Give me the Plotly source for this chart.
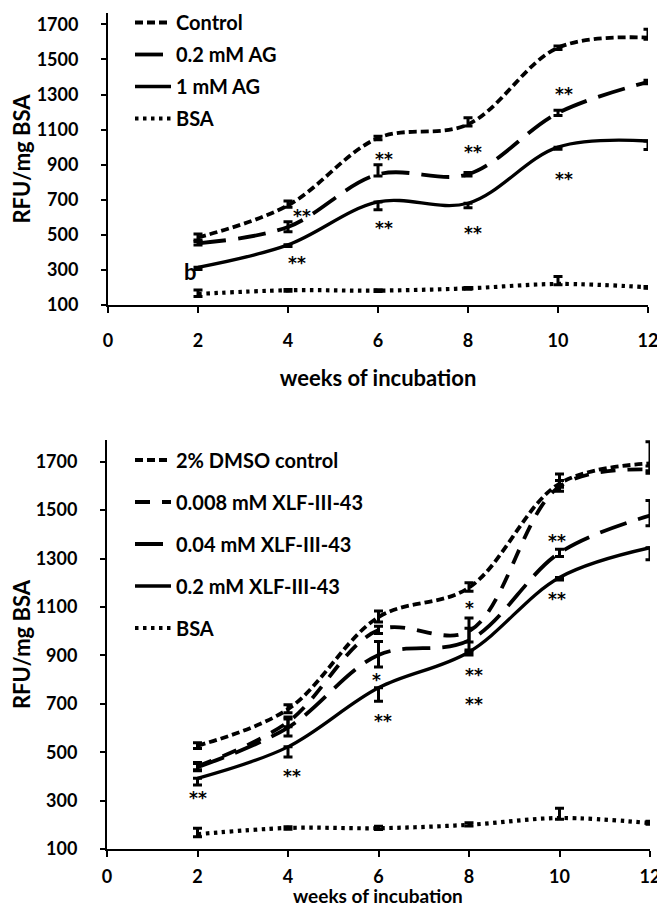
import plotly.graph_objects as go

weeks = [2, 4, 6, 8, 10, 12]

# ---- top panel (aminoguanidine) ----
top_names = ["Control", "0.2 mM AG", "1 mM AG", "BSA"]
top_control = [485, 668, 1052, 1130, 1567, 1625]
top_control_up = [20, 25, 10, 37, 10, 47]
top_control_dn = [15, 10, 10, 10, 10, 10]
top_ag02 = [452, 545, 845, 845, 1195, 1372]
top_ag02_up = [10, 30, 55, 10, 15, 10]
top_ag02_dn = [10, 28, 10, 10, 15, 10]
top_ag1 = [315, 443, 688, 680, 1000, 1035]
top_ag1_up = [0, 0, 0, 0, 0, 0]
top_ag1_dn = [12, 10, 45, 25, 12, 48]
top_bsa = [163, 184, 182, 195, 220, 201]
top_bsa_up = [22, 5, 5, 5, 42, 5]
top_bsa_dn = [15, 5, 5, 5, 5, 5]

top_star_text = ["**", "**", "**", "**", "**", "**", "**", "**", "*", "**", "b"]
top_star_x = [4.3, 4.2, 6.14, 6.14, 8.12, 8.12, 10.14, 10.14, 12.03, 12.2, 1.84]
top_star_y = [624, 357, 950, 557, 988, 529, 1320, 835, 1462, 902, 290]

# ---- bottom panel (XLF-III-43) ----
bot_names = ["2% DMSO control", "0.008 mM XLF-III-43", "0.04 mM XLF-III-43",
             "0.2 mM XLF-III-43", "BSA"]
bot_control = [527, 678, 1058, 1180, 1610, 1693]
bot_control_up = [12, 18, 25, 20, 40, 90]
bot_control_dn = [12, 15, 20, 15, 15, 30]
bot_x008 = [442, 625, 1005, 1000, 1598, 1668]
bot_x008_up = [15, 20, 15, 55, 25, 15]
bot_x008_dn = [15, 20, 15, 45, 20, 15]
bot_x04 = [438, 602, 902, 962, 1324, 1478]
bot_x04_up = [15, 35, 55, 50, 15, 62]
bot_x04_dn = [15, 35, 50, 40, 15, 42]
bot_x02 = [392, 522, 766, 914, 1222, 1345]
bot_x02_up = [0, 0, 0, 0, 0, 0]
bot_x02_dn = [28, 42, 55, 12, 10, 50]
bot_bsa = [161, 187, 186, 200, 228, 207]
bot_bsa_up = [25, 5, 8, 8, 40, 8]
bot_bsa_dn = [10, 5, 5, 5, 5, 5]

bot_star_text = ["**", "**", "*", "**", "*", "**", "**", "**", "**", "*", "**"]
bot_star_x = [2.02, 4.08, 5.95, 6.1, 8.0, 8.1, 8.1, 9.95, 9.95, 12.05, 12.22]
bot_star_y = [324, 412, 812, 642, 1109, 832, 710, 1387, 1144, 1575, 1206]

x_title = "weeks of incubation"
y_title = "RFU/mg BSA"

FONT = "Lato"
BLACK = "#000000"

# the page body has an 8px margin: figure is 657x900 so it fits the 665x908 window
W, H, OFF = 657, 900, 8


def px_x(p):
    return (p - OFF) / W


def px_y(p):
    return 1 - (p - OFF) / H


fig = go.Figure()


def add_series(name, y, up, dn, dash, width, xa, ya, legend, group):
    fig.add_trace(go.Scatter(
        x=weeks, y=y, name=name, mode="lines",
        line=dict(color=BLACK, width=width, dash=dash, shape="spline", smoothing=1.0),
        error_y=dict(type="data", symmetric=False, array=up, arrayminus=dn,
                     color=BLACK, thickness=3, width=4.5),
        xaxis=xa, yaxis=ya, legend=legend, legendgroup=group,
    ))


add_series(top_names[0], top_control, top_control_up, top_control_dn, "8px,4px", 3.8, "x", "y", "legend", "t1")
add_series(top_names[1], top_ag02, top_ag02_up, top_ag02_dn, "28px,12px", 3.8, "x", "y", "legend", "t2")
add_series(top_names[2], top_ag1, top_ag1_up, top_ag1_dn, "solid", 3.3, "x", "y", "legend", "t3")
add_series(top_names[3], top_bsa, top_bsa_up, top_bsa_dn, "3.5px,4.5px", 4.2, "x", "y", "legend", "t4")

add_series(bot_names[0], bot_control, bot_control_up, bot_control_dn, "8px,4px", 3.8, "x2", "y2", "legend2", "b1")
add_series(bot_names[1], bot_x008, bot_x008_up, bot_x008_dn, "15px,12px", 3.8, "x2", "y2", "legend2", "b2")
add_series(bot_names[2], bot_x04, bot_x04_up, bot_x04_dn, "28px,12px", 3.8, "x2", "y2", "legend2", "b3")
add_series(bot_names[3], bot_x02, bot_x02_up, bot_x02_dn, "solid", 3.3, "x2", "y2", "legend2", "b4")
add_series(bot_names[4], bot_bsa, bot_bsa_up, bot_bsa_dn, "3.5px,4.5px", 4.2, "x2", "y2", "legend2", "b5")

STAR_FONT = dict(family="DejaVu Sans", size=17, color=BLACK, weight="bold")
annotations = []
for t, x, y in zip(top_star_text, top_star_x, top_star_y):
    if t == "b":
        annotations.append(dict(x=x, y=y, xref="x", yref="y", text=t, showarrow=False,
                                font=dict(family=FONT, size=22, color=BLACK, weight="bold")))
    else:
        annotations.append(dict(x=x, y=y, xref="x", yref="y", text=t, showarrow=False,
                                yshift=-3, font=STAR_FONT))
for t, x, y in zip(bot_star_text, bot_star_x, bot_star_y):
    annotations.append(dict(x=x, y=y, xref="x2", yref="y2", text=t, showarrow=False,
                            yshift=-3, font=STAR_FONT))

tickfont = dict(family=FONT, size=18, color=BLACK, weight="bold")
titlefont = dict(family=FONT, size=22, color=BLACK, weight="bold")

# bottom x-axis title sits very close to the tick labels in the reference
annotations.append(dict(x=0.5, y=0, xref="x2 domain", yref="paper", text=x_title,
                        showarrow=False, yanchor="bottom", yshift=-1,
                        font=dict(family=FONT, size=19, color=BLACK, weight="bold")))


def xaxis(domain, anchor, title, standoff):
    d = dict(domain=domain, anchor=anchor, range=[0, 12], tickvals=[0, 2, 4, 6, 8, 10, 12],
             showline=True, linecolor=BLACK, linewidth=2, ticks="outside", ticklen=6,
             tickwidth=2, tickcolor=BLACK, showgrid=False, zeroline=False,
             tickfont=tickfont, ticklabelstandoff=standoff, automargin=False)
    if title:
        d["title"] = dict(text=x_title, font=titlefont, standoff=21)
    return d


def yaxis(domain, anchor, top):
    return dict(domain=domain, anchor=anchor, range=[100, top],
                tickvals=[100, 300, 500, 700, 900, 1100, 1300, 1500, 1700],
                showline=True, linecolor=BLACK, linewidth=2, ticks="outside", ticklen=5,
                tickwidth=2, tickcolor=BLACK, showgrid=False, zeroline=False,
                tickfont=tickfont, ticklabelstandoff=19, automargin=False,
                title=dict(text=y_title, font=titlefont, standoff=3))


legend_common = dict(bgcolor="rgba(0,0,0,0)", font=dict(family=FONT, size=20, color=BLACK, weight="bold"),
                     itemwidth=36, xanchor="left", yanchor="top", itemclick=False)

fig.update_layout(
    width=W, height=H,
    margin=dict(l=0, r=0, t=0, b=0, autoexpand=False),
    paper_bgcolor="white", plot_bgcolor="white",
    showlegend=True,
    xaxis=xaxis([px_x(108), px_x(648)], "y", True, 12),
    yaxis=yaxis([px_y(305), px_y(13)], "x", 1765),
    xaxis2=xaxis([px_x(107), px_x(650)], "y2", False, 4),
    yaxis2=yaxis([px_y(849), px_y(440)], "x2", 1790),
    legend=dict(x=px_x(130), y=px_y(3), tracegroupgap=3, **legend_common),
    legend2=dict(x=px_x(130), y=px_y(440.5), tracegroupgap=13, **legend_common),
    annotations=annotations,
)

fig.write_html("out.html")
